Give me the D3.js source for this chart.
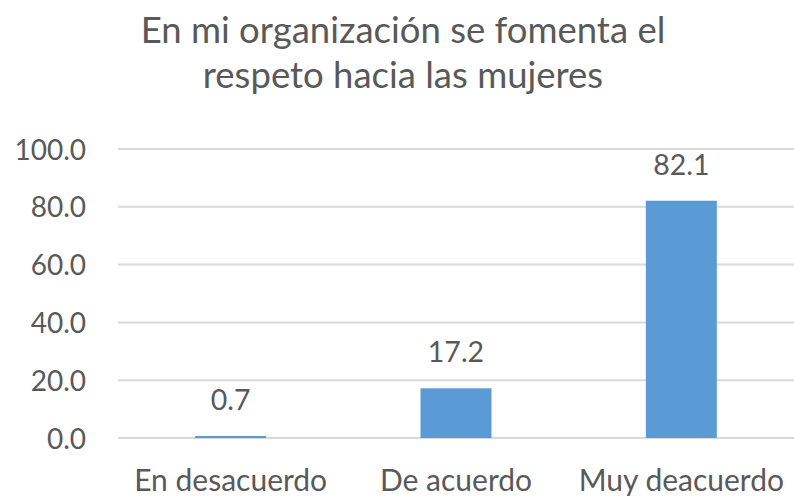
<!DOCTYPE html>
<html>
<head>
<meta charset="utf-8">
<script src="https://cdn.jsdelivr.net/npm/d3@7"></script>
<style>
    body { margin: 0; background: #fff; }
    svg text { font-family: Lato, "Open Sans", sans-serif; fill: #595959; }
    .grid line { stroke: #d9d9d9; stroke-width: 2; }
</style>
</head>
<body>
<div class="graph"></div>
<script>
    const categories = ["En desacuerdo", "De acuerdo", "Muy deacuerdo"];
    const values = [0.7, 17.2, 82.1];
    const yTicks = [0, 20, 40, 60, 80, 100];
    const titleLines = ["En mi organización se fomenta el", "respeto hacia las mujeres"];

    const width = 794, height = 496;
    const margin = {left: 118, right: 0, top: 149, bottom: 58};

    const svg = d3.select(".graph").append("svg")
        .attr("width", width)
        .attr("height", height);

    const x = d3.scaleBand()
        .domain(categories)
        .range([margin.left, width - margin.right])
        .paddingInner(0.685)
        .paddingOuter(0.3425);

    const y = d3.scaleLinear()
        .domain([0, 100])
        .range([height - margin.bottom, margin.top]);

    // title
    svg.append("g").selectAll("text")
        .data(titleLines)
        .join("text")
        .attr("x", 403)
        .attr("y", (d, i) => 43 + i * 45)
        .attr("text-anchor", "middle")
        .style("font-size", "36.5px")
        .text(d => d);

    // gridlines
    svg.append("g").attr("class", "grid")
        .selectAll("line")
        .data(yTicks)
        .join("line")
        .attr("x1", margin.left)
        .attr("x2", width - margin.right)
        .attr("y1", d => y(d))
        .attr("y2", d => y(d));

    // y axis labels
    const yAxis = svg.append("g")
        .attr("transform", "translate(" + (margin.left - 32) + ",0)")
        .call(d3.axisLeft(y).tickValues(yTicks).tickFormat(d3.format(".1f")).tickSize(0).tickPadding(0));
    yAxis.select(".domain").remove();
    yAxis.selectAll("text")
        .style("font-size", "28px")
        .attr("dy", "0.36em");

    // bars
    svg.append("g").selectAll("rect")
        .data(values)
        .join("rect")
        .attr("x", (d, i) => x(categories[i]))
        .attr("width", x.bandwidth())
        .attr("y", d => y(d))
        .attr("height", d => y(0) - y(d))
        .style("fill", "#5b9bd5");

    // value labels
    svg.append("g").selectAll("text")
        .data(values)
        .join("text")
        .attr("x", (d, i) => x(categories[i]) + x.bandwidth() / 2)
        .attr("y", d => y(d) - 26)
        .attr("text-anchor", "middle")
        .style("font-size", "28.5px")
        .text(d => d3.format(".1f")(d));

    // category labels
    const xAxis = svg.append("g")
        .attr("transform", "translate(0," + (height - margin.bottom) + ")")
        .call(d3.axisBottom(x).tickSize(0).tickPadding(0));
    xAxis.select(".domain").remove();
    xAxis.selectAll("text")
        .attr("y", 53)
        .attr("dy", 0)
        .style("font-size", "30px");
</script>
</body>
</html>
